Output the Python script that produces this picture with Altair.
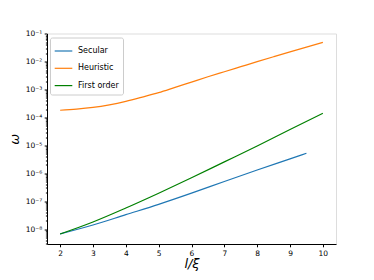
import altair as alt
import pandas as pd

x_heur = [2, 2.5, 3, 3.5, 4, 4.5, 5, 5.5, 6, 6.5, 7, 7.5, 8, 8.5, 9, 9.5, 10]
y_heur = [1.82e-4, 1.99e-4, 2.29e-4, 2.85e-4, 3.80e-4, 5.37e-4, 7.76e-4, 1.20e-3,
          1.86e-3, 2.88e-3, 4.37e-3, 6.61e-3, 1.00e-2, 1.50e-2, 2.24e-2, 3.31e-2, 4.90e-2]
x_first = [2, 3, 4, 5, 6, 7, 8, 9, 10]
y_first = [6.76e-9, 1.82e-8, 5.75e-8, 1.95e-7, 6.92e-7, 2.57e-6, 9.55e-6, 3.72e-5, 1.41e-4]
x_sec = [2, 3, 4, 5, 6, 7, 8, 9, 9.5]
y_sec = [6.76e-9, 1.41e-8, 3.31e-8, 7.76e-8, 1.95e-7, 5.13e-7, 1.32e-6, 3.31e-6, 5.25e-6]

series = ["Secular", "Heuristic", "First order"]
colors = ["#1f77b4", "#ff7f0e", "#008000"]
x_ticks = [2, 3, 4, 5, 6, 7, 8, 9, 10]
y_ticks = [1e-1, 1e-2, 1e-3, 1e-4, 1e-5, 1e-6, 1e-7, 1e-8]
minor_ticks = [m * 10.0 ** e for e in range(-9, -1) for m in range(2, 10)]
minor_ticks = [v for v in minor_ticks if 2.95e-9 <= v <= 0.102]

rows = []
for name, xs, ys in [("Secular", x_sec, y_sec), ("Heuristic", x_heur, y_heur),
                     ("First order", x_first, y_first)]:
    for i, (a, b) in enumerate(zip(xs, ys)):
        rows.append({"x": a, "y": b, "series": name, "order": i})
df = pd.DataFrame(rows)

FONT = "DejaVu Sans"
xscale = alt.Scale(domain=[1.6, 10.4], nice=False, zero=False)
yscale = alt.Scale(type="log", domain=[2.95e-9, 0.102], nice=False)

xaxis = alt.Axis(values=x_ticks, title="l/ξ", grid=False, tickSize=2.8,
                 labelFontSize=7.5, labelPadding=2.5, titleFontSize=13,
                 titleFontStyle="italic", titleFontWeight="normal",
                 titlePadding=1, domainColor="black", tickColor="black",
                 labelColor="black", titleColor="black", format="d")

lines = alt.Chart(df).mark_line(strokeWidth=1.2, interpolate="monotone").encode(
    x=alt.X("x:Q", scale=xscale, axis=xaxis),
    y=alt.Y("y:Q", scale=yscale,
            axis=alt.Axis(values=y_ticks, title="ω", grid=False, tickSize=2.8,
                          labelFontSize=7.5, labelPadding=2.5, titleFontSize=13,
                          titleFontStyle="italic", titleFontWeight="normal",
                          titlePadding=4, domainColor="black", tickColor="black",
                          labelColor="black", titleColor="black",
                          labelExpr="'10⁻' + ['','¹','²','³','⁴','⁵','⁶','⁷','⁸'][round(-log(datum.value)/LN10)]")),
    color=alt.Color("series:N", scale=alt.Scale(domain=series, range=colors),
                    legend=alt.Legend(title=None, orient="none", legendX=3, legendY=4,
                                      symbolType="stroke", symbolStrokeWidth=1.2,
                                      symbolSize=310, labelFontSize=8,
                                      labelFont=FONT, strokeColor="#cccccc",
                                      fillColor="white", padding=4, cornerRadius=2,
                                      rowPadding=3.3, labelOffset=5,
                                      labelColor="black")),
    order="order:Q",
)

minor = alt.Chart(df).mark_point(opacity=0).encode(
    x=alt.X("x:Q", scale=xscale, axis=xaxis),
    y=alt.Y("y:Q", scale=yscale,
            axis=alt.Axis(values=minor_ticks, labels=False, tickSize=1.6, domain=False,
                          grid=False, orient="left", title=None, tickColor="black")),
)

chart = alt.layer(lines, minor).resolve_axis(y="independent").properties(
    width=289, height=210.5,
    autosize=alt.AutoSizeParams(type="none"),
    padding={"left": 39, "top": 25.5, "right": 30, "bottom": 28},
).configure_view(stroke="#222222", strokeWidth=0.9).configure(font=FONT)

chart.save("out.html", embed_options={"renderer": "svg", "actions": False})
